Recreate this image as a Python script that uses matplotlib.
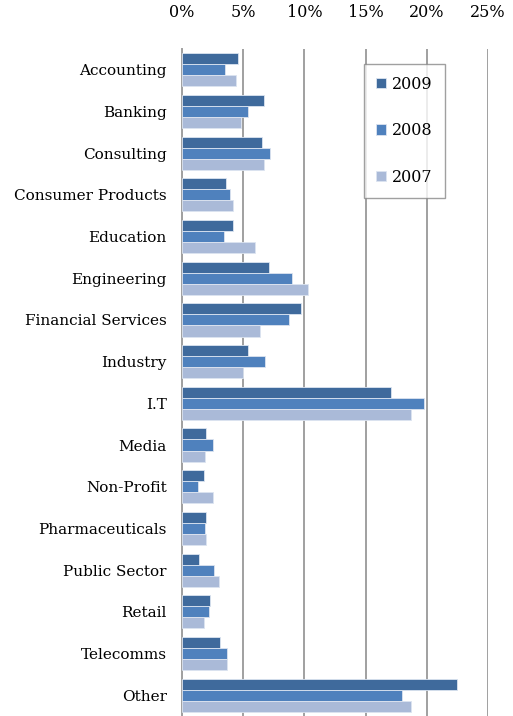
import numpy as np
import matplotlib.pyplot as plt
from matplotlib.ticker import FuncFormatter

categories = ["Accounting", "Banking", "Consulting", "Consumer Products", "Education",
              "Engineering", "Financial Services", "Industry", "I.T", "Media",
              "Non-Profit", "Pharmaceuticals", "Public Sector", "Retail",
              "Telecomms", "Other"]

pct_2009 = [4.6, 6.7, 6.5, 3.6, 4.2, 7.1, 9.7, 5.4, 17.1, 2.0, 1.8, 2.0, 1.4, 2.3, 3.1, 22.5]
pct_2008 = [3.5, 5.4, 7.2, 3.9, 3.4, 9.0, 8.7, 6.8, 19.8, 2.5, 1.3, 1.9, 2.6, 2.2, 3.7, 18.0]
pct_2007 = [4.4, 4.8, 6.7, 4.2, 6.0, 10.3, 6.4, 5.0, 18.7, 1.9, 2.5, 2.0, 3.0, 1.8, 3.7, 18.7]

years = ["2009", "2008", "2007"]
colors = ["#3F6A9C", "#4F81BD", "#AABAD8"]

plt.rcParams['font.family'] = ['DejaVu Serif']

fig = plt.figure(figsize=(5.13, 7.16), dpi=100)
ax = fig.add_axes([0.3548, 0.0, 0.5965, 0.9316])

y = np.arange(len(categories))
h = 0.265
for i, (vals, col, yr) in enumerate(zip([pct_2009, pct_2008, pct_2007], colors, years)):
    ax.barh(y + (i - 1) * h, np.array(vals) / 100, height=h, color=col,
            edgecolor="#DCE4F0", linewidth=0.6, label=yr, zorder=3)

ax.set_xlim(0, 0.25)
ax.set_ylim(len(categories) - 0.5, -0.5)
ax.set_xticks(np.arange(0, 0.26, 0.05))
ax.xaxis.set_major_formatter(FuncFormatter(lambda v, p: f"{v*100:.0f}%"))
ax.xaxis.tick_top()
ax.set_yticks(y)
ax.set_yticklabels(categories)
ax.tick_params(axis="x", length=0, pad=20, labelsize=11.5)
ax.tick_params(axis="y", length=0, pad=11, labelsize=11)
ax.grid(axis="x", color="#A0A0A0", linewidth=1.4, zorder=0)
for s in ["top", "right", "bottom"]:
    ax.spines[s].set_visible(False)
ax.spines["left"].set_color("#A0A0A0")
ax.spines["left"].set_linewidth(1.4)

leg = ax.legend(loc="upper left", bbox_to_anchor=(0.595, 0.978), fontsize=11.5,
                frameon=True, fancybox=False, edgecolor="#888888",
                handlelength=0.6, handleheight=0.6, handletextpad=0.4,
                labelspacing=1.85, borderpad=0.75, borderaxespad=0)
leg.get_frame().set_linewidth(1.0)

fig.savefig("out.png", dpi=100)
